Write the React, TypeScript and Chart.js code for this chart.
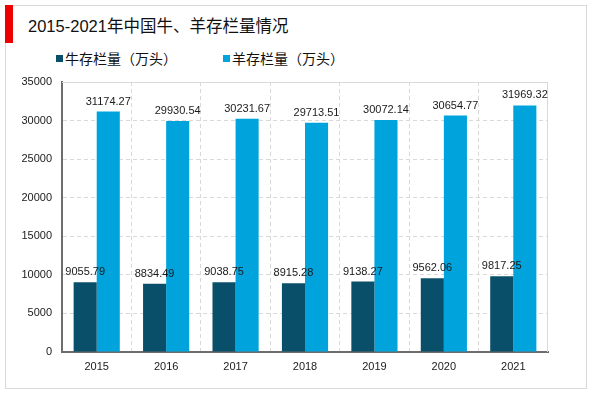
import React, { useEffect, useRef } from "react";
import { Chart, registerables } from "chart.js";

Chart.register(...registerables);

const years = ["2015", "2016", "2017", "2018", "2019", "2020", "2021"];
const cattle = [9055.79, 8834.49, 9038.75, 8915.28, 9138.27, 9562.06, 9817.25];
const sheep = [31174.27, 29930.54, 30231.67, 29713.51, 30072.14, 30654.77, 31969.32];
const seriesNames = ["牛存栏量（万头）", "羊存栏量（万头）"];
const yMax = 35000;
const yStep = 5000;
const titleText = "2015-2021年中国牛、羊存栏量情况";

const DARK = "#0a4f69";
const LIGHT = "#00a3db";
const FONT = "'Liberation Sans', Arial, 'Noto Sans CJK SC', sans-serif";

const labelPlugin = {
  id: "barLabels",
  afterDatasetsDraw(chart: any) {
    const ctx = chart.ctx;
    ctx.save();
    ctx.font = `11px ${FONT}`;
    ctx.fillStyle = "#1a1a1a";
    ctx.textAlign = "center";
    ctx.textBaseline = "alphabetic";
    chart.data.datasets.forEach((ds: any, di: number) => {
      const meta = chart.getDatasetMeta(di);
      meta.data.forEach((el: any, i: number) => {
        ctx.fillText(Number(ds.data[i]).toFixed(2), el.x, el.y - 7);
      });
    });
    ctx.restore();
  },
};

const framePlugin = {
  id: "frame",
  beforeDatasetsDraw(chart: any) {
    const { ctx, chartArea } = chart;
    ctx.save();
    ctx.strokeStyle = "#d9d9d9";
    ctx.lineWidth = 1;
    ctx.setLineDash([]);
    ctx.beginPath();
    ctx.moveTo(chartArea.left, chartArea.top + 0.5);
    ctx.lineTo(chartArea.right - 0.5, chartArea.top + 0.5);
    ctx.lineTo(chartArea.right - 0.5, chartArea.bottom);
    ctx.stroke();
    ctx.restore();
  },
};

export default function App() {
  const ref = useRef<HTMLCanvasElement | null>(null);

  useEffect(() => {
    if (!ref.current) return;
    const chart = new Chart(ref.current, {
      type: "bar",
      data: {
        labels: years,
        datasets: [
          { label: seriesNames[0], data: cattle, backgroundColor: DARK, borderWidth: 0 },
          { label: seriesNames[1], data: sheep, backgroundColor: LIGHT, borderWidth: 0 },
        ],
      },
      options: {
        animation: false,
        responsive: false,
        maintainAspectRatio: false,
        layout: { padding: { left: 5, right: 52, top: 82, bottom: 0 } },
        datasets: { bar: { barPercentage: 1, categoryPercentage: 0.665 } },
        plugins: {
          legend: { display: false },
          title: { display: false },
          tooltip: { enabled: false },
        },
        scales: {
          x: {
            grid: { display: true, color: "#d9d9d9", drawTicks: false, offset: true },
            border: { display: true, color: "#6d6d6d", width: 2, dash: [4, 3] },
            ticks: { color: "#1a1a1a", font: { family: FONT, size: 11 }, padding: 8 },
            afterFit: (s: any) => {
              s.height = 41;
            },
          },
          y: {
            min: 0,
            max: yMax,
            grid: { color: "#d9d9d9", drawTicks: false },
            border: { display: true, color: "#6d6d6d", width: 2, dash: [4, 3] },
            ticks: {
              stepSize: yStep,
              color: "#1a1a1a",
              font: { family: FONT, size: 11 },
              padding: 10,
              callback: (v: any) => String(v),
            },
            afterFit: (s: any) => {
              s.width = 57;
            },
          },
        },
      },
      plugins: [framePlugin, labelPlugin],
    } as any);
    return () => chart.destroy();
  }, []);

  const legendText: React.CSSProperties = {
    position: "absolute",
    top: 50,
    fontSize: 14,
    lineHeight: "18px",
    color: "#111",
    whiteSpace: "nowrap",
  };

  return (
    <div
      style={{
        position: "fixed",
        left: 0,
        top: 0,
        width: 600,
        height: 393,
        background: "#fff",
        fontFamily: FONT,
      }}
    >
      <div
        style={{
          position: "absolute",
          left: 5,
          top: 5,
          width: 580,
          height: 382,
          border: "1px solid #d9d9d9",
        }}
      />
      <div style={{ position: "absolute", left: 5, top: 5, width: 8, height: 38, background: "#ee0000" }} />
      <div
        style={{
          position: "absolute",
          left: 28,
          top: 14,
          fontSize: 16.5,
          lineHeight: "24px",
          color: "#111",
          whiteSpace: "nowrap",
        }}
      >
        {titleText}
      </div>
      <div style={{ position: "absolute", left: 56, top: 55, width: 7, height: 7, background: DARK }} />
      <div style={{ ...legendText, left: 65 }}>{seriesNames[0]}</div>
      <div style={{ position: "absolute", left: 223, top: 55, width: 7, height: 7, background: LIGHT }} />
      <div style={{ ...legendText, left: 232 }}>{seriesNames[1]}</div>
      <canvas ref={ref} width={600} height={393} style={{ position: "absolute", left: 0, top: 0 }} />
    </div>
  );
}
